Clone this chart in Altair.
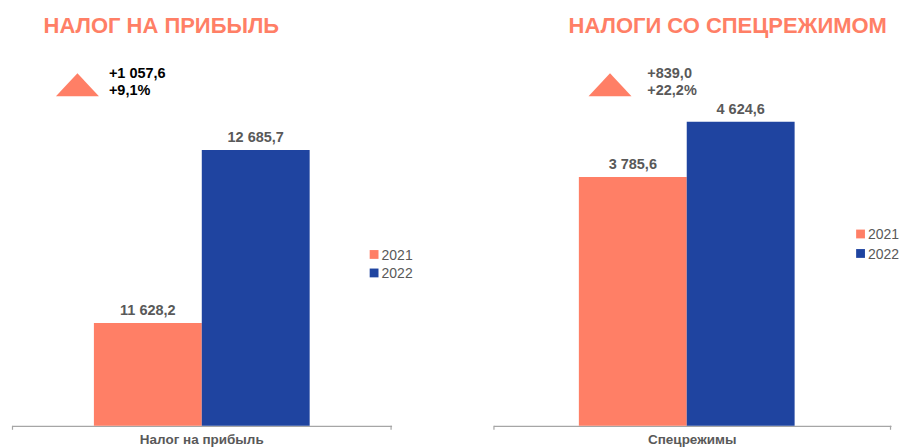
import altair as alt
import pandas as pd

# ---- data ----
years = ["2021", "2022"]
category_left = "Налог на прибыль"
category_right = "Спецрежимы"
profit_tax = [11628.2, 12685.7]
special_regimes = [3785.6, 4624.6]
titles = ["НАЛОГ НА ПРИБЫЛЬ", "НАЛОГИ СО СПЕЦРЕЖИМОМ"]
changes_abs = ["+1 057,6", "+839,0"]
changes_pct = ["+9,1%", "+22,2%"]

FONT = "Liberation Sans, Arial, sans-serif"
SALMON = "#FF7F66"
BLUE = "#1F44A0"
GRAY = "#595959"
AXIS = "#A6A6A6"
H = 418
TRI = "M-1,0.535L0,-0.535L1,0.535Z"


def fmt(v):
    return f"{v:,.1f}".replace(",", " ").replace(".", ",")


def panel(category, values, ymin, ymax, width, axis_len, band, title, title_x,
          tri_x, ann_abs, ann_pct, ann_x, ann_color, leg_x, leg_y1, leg_y2):
    df = pd.DataFrame({
        "cat": [category] * len(years),
        "year": years,
        "value": values,
        "base": [ymin] * len(years),
        "label": [fmt(v) for v in values],
    })
    color_scale = alt.Scale(domain=years, range=[SALMON, BLUE])
    po = (axis_len / band - 1) / 2
    x = alt.X("cat:N", title=None,
              scale=alt.Scale(paddingInner=0, paddingOuter=po,
                              range=[0, axis_len]),
              axis=alt.Axis(labelAngle=0, ticks=False, domainColor=AXIS,
                            domainWidth=1.2, labelFont=FONT,
                            labelFontSize=13.5, labelFontWeight="bold",
                            labelColor=GRAY, labelPadding=7))
    xo = alt.XOffset("year:N", scale=alt.Scale(domain=years, paddingInner=0,
                                                paddingOuter=0))
    y = alt.Y("value:Q", axis=None,
              scale=alt.Scale(domain=[ymin, ymax], zero=False, nice=False))
    base = alt.Chart(df)
    bars = base.mark_bar().encode(
        x=x, xOffset=xo, y=y, y2="base:Q",
        color=alt.Color("year:N", scale=color_scale, legend=None))
    labels = base.mark_text(baseline="alphabetic", dy=-8, font=FONT,
                            fontSize=14.5, fontWeight="bold",
                            color=GRAY).encode(
        x=x, xOffset=xo, y=y, text="label:N")
    ttl = alt.Chart(pd.DataFrame({"t": [title]})).mark_text(
        align="center", baseline="alphabetic", font=FONT, fontSize=22,
        fontWeight="bold", color=SALMON).encode(
        x=alt.value(title_x), y=alt.value(24.3), text="t:N")
    tri = alt.Chart(pd.DataFrame({"k": [1]})).mark_point(
        shape=TRI, size=1849, filled=True, color=SALMON, opacity=1,
        strokeWidth=0).encode(x=alt.value(tri_x), y=alt.value(76.6))
    ann = alt.Chart(pd.DataFrame({"t": [ann_abs + "\n" + ann_pct]})).mark_text(
        align="left", baseline="alphabetic", lineBreak="\n", lineHeight=17,
        font=FONT, fontSize=14.5, fontWeight="bold", color=ann_color).encode(
        x=alt.value(ann_x), y=alt.value(70.3), text="t:N")
    tick_df = pd.DataFrame({"k": [1]})
    t1 = alt.Chart(tick_df).mark_rule(color=AXIS, strokeWidth=1.2).encode(
        x=alt.value(0.5), y=alt.value(H), y2=alt.value(H + 4))
    t2 = alt.Chart(tick_df).mark_rule(color=AXIS, strokeWidth=1.2).encode(
        x=alt.value(axis_len - 0.5), y=alt.value(H), y2=alt.value(H + 4))

    # legend drawn as marks
    leg_df = pd.DataFrame({"year": years})
    ly = alt.Y("year:N", axis=None,
               scale=alt.Scale(type="point", domain=years,
                               range=[leg_y1, leg_y2], padding=0))
    leg_sq = alt.Chart(leg_df).mark_square(size=78, opacity=1).encode(
        x=alt.value(leg_x), y=ly,
        color=alt.Color("year:N", scale=color_scale, legend=None))
    leg_tx = alt.Chart(leg_df).mark_text(
        align="left", baseline="middle", dy=1.5, font=FONT, fontSize=14,
        color=GRAY).encode(
        x=alt.value(leg_x + 7.5), y=ly, text="year:N")

    return alt.layer(bars, labels, ttl, tri, ann, t1, t2, leg_sq, leg_tx
                     ).resolve_scale(y="independent").properties(
        width=width, height=H)


left = panel(category_left, profit_tax, 11000, 13553, 380, 380, 216,
             titles[0], 149.5, 65.5, changes_abs[0], changes_pct[0], 97,
             "#000000", 362.5, 246.5, 265)
right = panel(category_right, special_regimes, 0, 6353, 408, 398, 227,
              titles[1], 234.5, 116.7, changes_abs[1], changes_pct[1], 154,
              GRAY, 367.5, 226, 245.5)

chart = alt.hconcat(left, right, spacing=102, bounds="flush").resolve_scale(
    color="independent", x="independent", y="independent"
).properties(
    padding={"left": 3, "top": 0, "right": 0, "bottom": 0}
).configure_view(stroke=None)

chart.save("out.html", embed_options={"renderer": "svg", "actions": False})
